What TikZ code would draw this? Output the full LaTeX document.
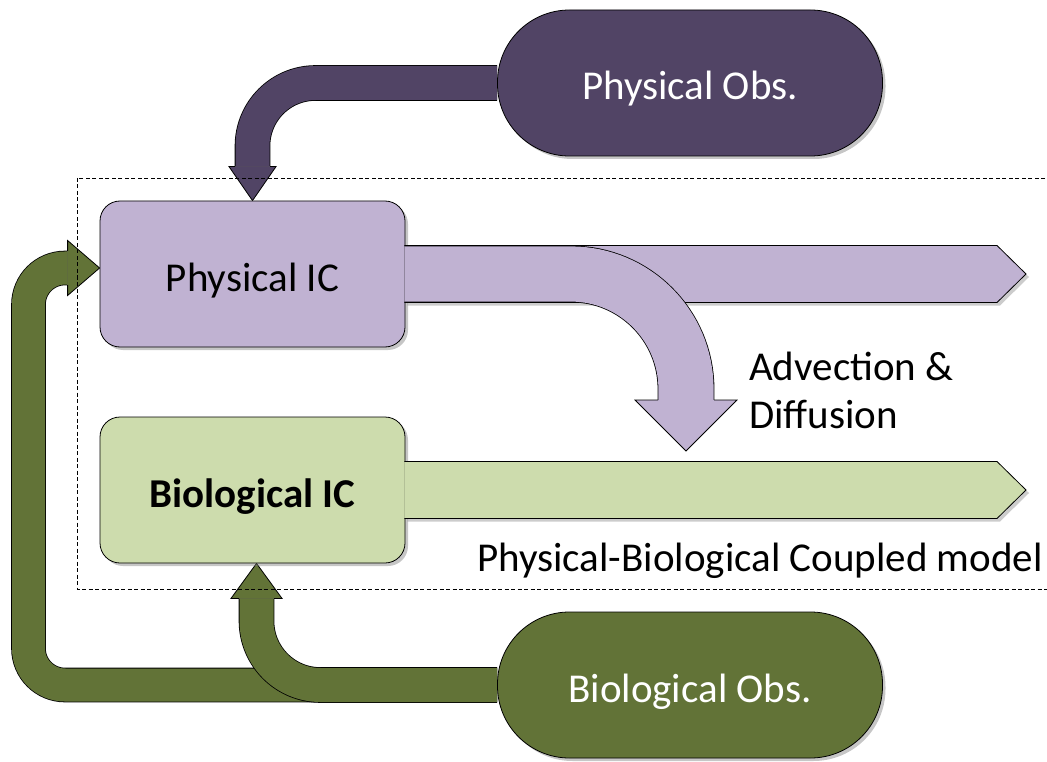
\documentclass[tikz,border=0pt]{standalone}
\usepackage{fontspec}
\setmainfont{Carlito}
\usetikzlibrary{positioning, calc, shadows, backgrounds}

\definecolor{physdark}{RGB}{81,68,101}
\definecolor{physlight}{RGB}{192,178,210}
\definecolor{biodark}{RGB}{98,115,55}
\definecolor{biolight}{RGB}{205,220,173}

\begin{document}
\begin{tikzpicture}[x=1pt, y=-1pt,
        icbox/.style={rectangle, rounded corners=20pt, draw=black, line width=0.8pt,
            minimum width=305pt, minimum height=146pt, text centered,
            text height=34pt, text depth=0pt,
            font=\fontsize{41}{49}\selectfont,
            drop shadow={shadow xshift=3pt, shadow yshift=-3pt, opacity=0.45}},
        obsbox/.style={rectangle, rounded corners=72pt, draw=black, line width=0.8pt,
            minimum width=385pt, minimum height=146pt, text=white, text centered,
            text height=34pt, text depth=0pt,
            font=\fontsize{41}{49}\selectfont,
            drop shadow={shadow xshift=3pt, shadow yshift=-3pt, opacity=0.45}},
        label/.style={inner sep=0pt, font=\fontsize{41}{48}\selectfont},
        band/.style={draw=black, line width=0.8pt, double distance=#1},
        chevron/.style={draw=black, line width=0.8pt,
            drop shadow={shadow xshift=3pt, shadow yshift=-3pt, opacity=0.4}},
        head/.style={draw=black, line width=0.8pt},
        frame/.style={draw=black, line width=0.8pt, dash pattern=on 4pt off 2.5pt},
    ]
        \useasboundingbox (0, 0) rectangle (1047, 762);

        % Boxes
        \node[obsbox, fill=physdark] (pobs) at (690, 83) {Physical Obs.};
        \node[icbox, fill=physlight] (pic) at (252.5, 274) {Physical IC};
        \node[icbox, fill=biolight] (bic) at (252.5, 490) {\bfseries Biological IC};
        \node[obsbox, fill=biodark] (bobs) at (690, 685) {Biological Obs.};

        % Tips
        \coordinate (ptip) at (1026, 274);
        \coordinate (btip) at (1026, 490);
        \coordinate (advtip) at (686, 451);
        \coordinate (lefttip) at ($(pic.west)+(0,-6)$);
        \coordinate (bottip) at ($(bic.south)+(4,0)$);

        % Labels
        \node[label, anchor=west, align=left] (adv) at (749, 390) {Advection \&\\Diffusion};
        \node[label, anchor=east] (coupled) at (1043, 561) {Physical-Biological Coupled model};

        % Observation arrows
        \begin{scope}[on background layer]
            \draw[band=34pt, double=physdark, rounded corners=63pt]
                (pobs.west) -| ($(pic.north)+(0,-34)$);
            \path[head, fill=physdark] ($(pic.north)+(17.5,-34)$) -- ($(pic.north)+(23.5,-34)$)
                -- (pic.north) -- ($(pic.north)+(-23.5,-34)$) -- ($(pic.north)+(-17.5,-34)$);

            \draw[band=33pt, double=biodark, rounded corners=36.5pt]
                (bobs.west) -| (28.5, 268) -- ($(lefttip)+(-32,0)$);
            \path[head, fill=biodark] ($(lefttip)+(-32,-17)$) -- ($(lefttip)+(-32,-27.5)$)
                -- (lefttip) -- ($(lefttip)+(-32,27.5)$) -- ($(lefttip)+(-32,17)$);

            \draw[band=34pt, double=biodark, rounded corners=64pt]
                (bobs.west) -| ($(bottip)+(0,35)$);
            \path[head, fill=biodark] ($(bottip)+(17.5,35)$) -- ($(bottip)+(25.5,35)$)
                -- (bottip) -- ($(bottip)+(-25.5,35)$) -- ($(bottip)+(-17.5,35)$);
        \end{scope}

        % Model arrows
        \path[chevron, fill=physlight] ($(pic.east)+(-1,-28.5)$) -- ($(ptip)+(-29,-28.5)$)
            -- (ptip) -- ($(ptip)+(-29,28.5)$) -- ($(pic.east)+(-1,28.5)$);
        \path[chevron, fill=biolight] ($(bic.east)+(-1,-28.5)$) -- ($(btip)+(-29,-28.5)$)
            -- (btip) -- ($(btip)+(-29,28.5)$) -- ($(bic.east)+(-1,28.5)$);

        \draw[band=55.2pt, double=physlight, rounded corners=115pt]
            ($(pic.east)+(-1,0)$) -| ($(advtip)+(0,-51)$);
        \path[head, fill=physlight] ($(advtip)+(28,-51)$) -- ($(advtip)+(51,-51)$)
            -- (advtip) -- ($(advtip)+(-51,-51)$) -- ($(advtip)+(-28,-51)$);

        % Coupled model frame
        \draw[frame] (77, 178) rectangle (1060, 589);
    \end{tikzpicture}
\end{document}
